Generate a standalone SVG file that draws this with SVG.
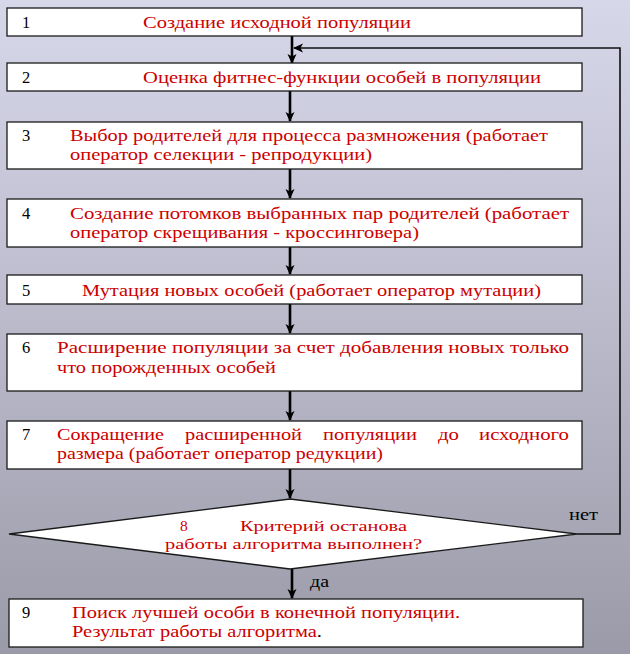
<svg xmlns="http://www.w3.org/2000/svg" width="630" height="654" viewBox="0 0 630 654">
<defs>
<linearGradient id="bg" x1="0" y1="0" x2="0" y2="1">
<stop offset="0" stop-color="#d7d7ea"/>
<stop offset="0.5" stop-color="#babacb"/>
<stop offset="1" stop-color="#9a9aa8"/>
</linearGradient>
<marker id="ah" markerWidth="10" markerHeight="10" refX="9" refY="5" orient="auto" markerUnits="userSpaceOnUse">
<path d="M0,0.5 L10,5 L0,9.5 L2.5,5 Z" fill="#000"/>
</marker>
<style>
.box{fill:#fff;stroke:#1a1a1a;stroke-width:1.3}
.t{font-size:16.5px;fill:#cc0000}
.n{font-size:16.5px;fill:#000}
.d{font-size:15.5px;fill:#cc0000}
.c{fill:none;stroke:#000;stroke-width:2.6}
.loop{fill:none;stroke:#111;stroke-width:1.6}
</style>
</defs>
<rect x="0" y="0" width="630" height="654" fill="url(#bg)"/>

<g id="connectors">
<line class="c" x1="292" y1="36" x2="292" y2="63" marker-end="url(#ah)"/>
<line class="c" x1="290" y1="91" x2="290" y2="121" marker-end="url(#ah)"/>
<line class="c" x1="290" y1="169" x2="290" y2="198" marker-end="url(#ah)"/>
<line class="c" x1="290" y1="247" x2="290" y2="274" marker-end="url(#ah)"/>
<line class="c" x1="290" y1="304" x2="290" y2="333" marker-end="url(#ah)"/>
<line class="c" x1="290" y1="391" x2="290" y2="420" marker-end="url(#ah)"/>
<line class="c" x1="290" y1="469" x2="290" y2="498" marker-end="url(#ah)"/>
<line class="c" x1="292" y1="569" x2="292" y2="598" marker-end="url(#ah)"/>
<polyline class="loop" points="577,534 620,534 620,48 294,48" marker-end="url(#ah)"/>
</g>

<g font-family="Liberation Serif, Times New Roman, serif">
<g id="labels">
<text class="n" x="569" y="520" textLength="29" lengthAdjust="spacingAndGlyphs">нет</text>
<text class="n" x="310" y="587" textLength="19" lengthAdjust="spacingAndGlyphs">да</text>
</g>

<g id="node1">
<rect class="box" x="7" y="8" width="575" height="28"/>
<text class="n" x="22" y="28">1</text>
<text class="t" x="143" y="28" textLength="268" lengthAdjust="spacingAndGlyphs">Создание исходной популяции</text>
</g>

<g id="node2">
<rect class="box" x="7" y="63" width="575" height="28"/>
<text class="n" x="22" y="83">2</text>
<text class="t" x="143" y="83" textLength="398" lengthAdjust="spacingAndGlyphs">Оценка фитнес-функции особей в популяции</text>
</g>

<g id="node3">
<rect class="box" x="7" y="122" width="575" height="47"/>
<text class="n" x="22" y="141">3</text>
<text class="t" x="70" y="141" textLength="478" lengthAdjust="spacingAndGlyphs">Выбор родителей для процесса размножения (работает</text>
<text class="t" x="70" y="160" textLength="302" lengthAdjust="spacingAndGlyphs">оператор селекции - репродукции)</text>
</g>

<g id="node4">
<rect class="box" x="7" y="199" width="575" height="48"/>
<text class="n" x="22" y="219">4</text>
<text class="t" x="70" y="219" textLength="499" lengthAdjust="spacingAndGlyphs">Создание потомков выбранных пар родителей (работает</text>
<text class="t" x="70" y="238" textLength="349" lengthAdjust="spacingAndGlyphs">оператор скрещивания - кроссинговера)</text>
</g>

<g id="node5">
<rect class="box" x="7" y="275" width="575" height="29"/>
<text class="n" x="22" y="296">5</text>
<text class="t" x="82" y="296" textLength="459" lengthAdjust="spacingAndGlyphs">Мутация новых особей (работает оператор мутации)</text>
</g>

<g id="node6">
<rect class="box" x="7" y="334" width="575" height="57"/>
<text class="n" x="22" y="353">6</text>
<text class="t" x="57" y="353" textLength="512" lengthAdjust="spacingAndGlyphs">Расширение популяции за счет добавления новых только</text>
<text class="t" x="57" y="373" textLength="219" lengthAdjust="spacingAndGlyphs">что порожденных особей</text>
</g>

<g id="node7">
<rect class="box" x="7" y="421" width="575" height="48"/>
<text class="n" x="22" y="440">7</text>
<text class="t" x="57" y="440" textLength="107" lengthAdjust="spacingAndGlyphs">Сокращение</text>
<text class="t" x="185" y="440" textLength="117" lengthAdjust="spacingAndGlyphs">расширенной</text>
<text class="t" x="323" y="440" textLength="94" lengthAdjust="spacingAndGlyphs">популяции</text>
<text class="t" x="438" y="440" textLength="21" lengthAdjust="spacingAndGlyphs">до</text>
<text class="t" x="479" y="440" textLength="90" lengthAdjust="spacingAndGlyphs">исходного</text>
<text class="t" x="57" y="459" textLength="326" lengthAdjust="spacingAndGlyphs">размера (работает оператор редукции)</text>
</g>

<g id="node8">
<polygon class="box" points="9,534 290,499 577,534 290,569"/>
<text class="d" x="180" y="531">8</text>
<text class="d" x="240" y="531" textLength="167" lengthAdjust="spacingAndGlyphs">Критерий останова</text>
<text class="d" x="165" y="549" textLength="257" lengthAdjust="spacingAndGlyphs">работы алгоритма выполнен?</text>
</g>

<g id="node9">
<rect class="box" x="9" y="599" width="574" height="48"/>
<text class="n" x="22" y="618">9</text>
<text class="t" x="72" y="618" textLength="388" lengthAdjust="spacingAndGlyphs">Поиск лучшей особи в конечной популяции.</text>
<text class="t" x="72" y="637" textLength="250" lengthAdjust="spacingAndGlyphs">Результат работы алгоритма<tspan fill="#000">.</tspan></text>
</g>
</g>
</svg>
